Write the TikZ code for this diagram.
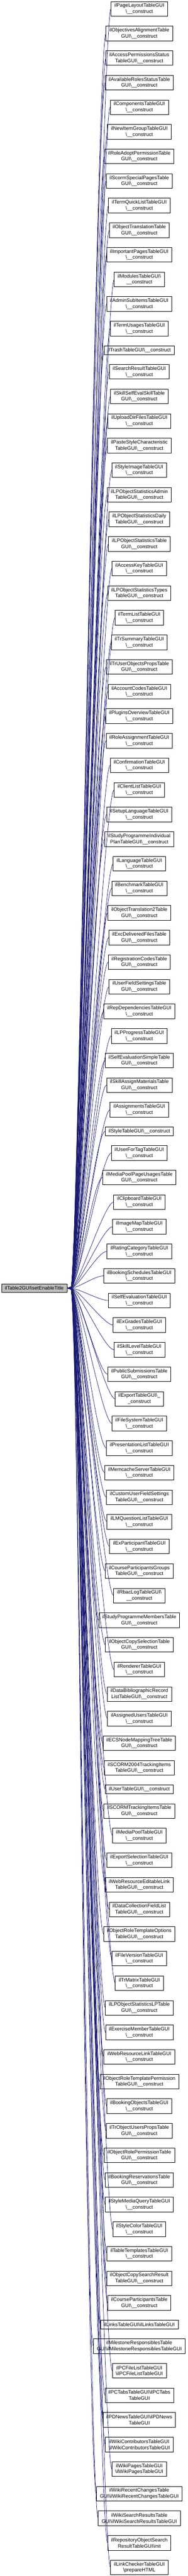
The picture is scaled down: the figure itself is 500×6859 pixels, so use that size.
\documentclass[tikz,border=0pt]{standalone}
\usepackage{fontspec}
\setmainfont{Liberation Sans}
\usetikzlibrary{positioning,calc,arrows.meta}
\definecolor{midblue}{RGB}{25,25,112}
\newcommand{\bs}{\textbackslash}
\newcommand{\cons}{\_\_construct}
\tikzset{
  fn/.style={draw=black, fill=white, line width=0.75pt, align=center,
    font=\fontsize{10pt}{12pt}\selectfont, inner xsep=6.75pt, inner ysep=0pt,
    outer sep=0pt, minimum height=29.25pt},
  fnone/.style={fn, minimum height=17.25pt},
  focusfn/.style={fnone, fill=black!25},
  edge/.style={draw=midblue, line width=0.75pt, {Triangle[length=7.5pt,width=5pt]}-}
}
\def\gap{19.87pt}
\begin{document}
\begin{tikzpicture}[x=0.75pt,y=0.75pt]
\useasboundingbox (0,0) rectangle (500,-6859);
% callers, top to bottom
\foreach \lbl/\sty [count=\i, remember=\i as \j (initially 0)] in {
  ilPageLayoutTableGUI\\\bs\cons/fn,
  ilObjectivesAlignmentTable\\GUI\bs\cons/fn,
  ilAccessPermissionsStatus\\TableGUI\bs\cons/fn,
  ilAvailableRolesStatusTable\\GUI\bs\cons/fn,
  ilComponentsTableGUI\\\bs\cons/fn,
  ilNewItemGroupTableGUI\\\bs\cons/fn,
  ilRoleAdoptPermissionTable\\GUI\bs\cons/fn,
  ilScormSpecialPagesTable\\GUI\bs\cons/fn,
  ilTermQuickListTableGUI\\\bs\cons/fn,
  ilObjectTranslationTable\\GUI\bs\cons/fn,
  ilImportantPagesTableGUI\\\bs\cons/fn,
  ilModulesTableGUI\bs\\\cons/fn,
  ilAdminSubItemsTableGUI\\\bs\cons/fn,
  ilTermUsagesTableGUI\\\bs\cons/fn,
  ilTrashTableGUI\bs\cons/fnone,
  ilSearchResultTableGUI\\\bs\cons/fn,
  ilSkillSelfEvalSkillTable\\GUI\bs\cons/fn,
  ilUploadDirFilesTableGUI\\\bs\cons/fn,
  ilPasteStyleCharacteristic\\TableGUI\bs\cons/fn,
  ilStyleImageTableGUI\\\bs\cons/fn,
  ilLPObjectStatisticsAdmin\\TableGUI\bs\cons/fn,
  ilLPObjectStatisticsDaily\\TableGUI\bs\cons/fn,
  ilLPObjectStatisticsTable\\GUI\bs\cons/fn,
  ilAccessKeyTableGUI\\\bs\cons/fn,
  ilLPObjectStatisticsTypes\\TableGUI\bs\cons/fn,
  ilTermListTableGUI\\\bs\cons/fn,
  ilTrSummaryTableGUI\\\bs\cons/fn,
  ilTrUserObjectsPropsTable\\GUI\bs\cons/fn,
  ilAccountCodesTableGUI\\\bs\cons/fn,
  ilPluginsOverviewTableGUI\\\bs\cons/fn,
  ilRoleAssignmentTableGUI\\\bs\cons/fn,
  ilConfirmationTableGUI\\\bs\cons/fn,
  ilClientListTableGUI\\\bs\cons/fn,
  ilSetupLanguageTableGUI\\\bs\cons/fn,
  ilStudyProgrammeIndividual\\PlanTableGUI\bs\cons/fn,
  ilLanguageTableGUI\\\bs\cons/fn,
  ilBenchmarkTableGUI\\\bs\cons/fn,
  ilObjectTranslation2Table\\GUI\bs\cons/fn,
  ilExcDeliveredFilesTable\\GUI\bs\cons/fn,
  ilRegistrationCodesTable\\GUI\bs\cons/fn,
  ilUserFieldSettingsTable\\GUI\bs\cons/fn,
  ilRepDependenciesTableGUI\\\bs\cons/fn,
  ilLPProgressTableGUI\\\bs\cons/fn,
  ilSelfEvaluationSimpleTable\\GUI\bs\cons/fn,
  ilSkillAssignMaterialsTable\\GUI\bs\cons/fn,
  ilAssignmentsTableGUI\\\bs\cons/fn,
  ilStyleTableGUI\bs\cons/fnone,
  ilUserForTagTableGUI\\\bs\cons/fn,
  ilMediaPoolPageUsagesTable\\GUI\bs\cons/fn,
  ilClipboardTableGUI\\\bs\cons/fn,
  ilImageMapTableGUI\\\bs\cons/fn,
  ilRatingCategoryTableGUI\\\bs\cons/fn,
  ilBookingSchedulesTableGUI\\\bs\cons/fn,
  ilSelfEvaluationTableGUI\\\bs\cons/fn,
  ilExGradesTableGUI\\\bs\cons/fn,
  ilSkillLevelTableGUI\\\bs\cons/fn,
  ilPublicSubmissionsTable\\GUI\bs\cons/fn,
  ilExportTableGUI\bs\_\\\_construct/fn,
  ilFileSystemTableGUI\\\bs\cons/fn,
  ilPresentationListTableGUI\\\bs\cons/fn,
  ilMemcacheServerTableGUI\\\bs\cons/fn,
  ilCustomUserFieldSettings\\TableGUI\bs\cons/fn,
  ilLMQuestionListTableGUI\\\bs\cons/fn,
  ilExParticipantTableGUI\\\bs\cons/fn,
  ilCourseParticipantsGroups\\TableGUI\bs\cons/fn,
  ilRbacLogTableGUI\bs\\\cons/fn,
  ilStudyProgrammeMembersTable\\GUI\bs\cons/fn,
  ilObjectCopySelectionTable\\GUI\bs\cons/fn,
  ilRendererTableGUI\\\bs\cons/fn,
  ilDataBibliographicRecord\\ListTableGUI\bs\cons/fn,
  ilAssignedUsersTableGUI\\\bs\cons/fn,
  ilECSNodeMappingTreeTable\\GUI\bs\cons/fn,
  ilSCORM2004TrackingItems\\TableGUI\bs\cons/fn,
  ilUserTableGUI\bs\cons/fnone,
  ilSCORMTrackingItemsTable\\GUI\bs\cons/fn,
  ilMediaPoolTableGUI\\\bs\cons/fn,
  ilExportSelectionTableGUI\\\bs\cons/fn,
  ilWebResourceEditableLink\\TableGUI\bs\cons/fn,
  ilDataCollectionFieldList\\TableGUI\bs\cons/fn,
  ilObjectRoleTemplateOptions\\TableGUI\bs\cons/fn,
  ilFileVersionTableGUI\\\bs\cons/fn,
  ilTrMatrixTableGUI\\\bs\cons/fn,
  ilLPObjectStatisticsLPTable\\GUI\bs\cons/fn,
  ilExerciseMemberTableGUI\\\bs\cons/fn,
  ilWebResourceLinkTableGUI\\\bs\cons/fn,
  ilObjectRoleTemplatePermission\\TableGUI\bs\cons/fn,
  ilBookingObjectsTableGUI\\\bs\cons/fn,
  ilTrObjectUsersPropsTable\\GUI\bs\cons/fn,
  ilObjectRolePermissionTable\\GUI\bs\cons/fn,
  ilBookingReservationsTable\\GUI\bs\cons/fn,
  ilStyleMediaQueryTableGUI\\\bs\cons/fn,
  ilStyleColorTableGUI\\\bs\cons/fn,
  ilTableTemplatesTableGUI\\\bs\cons/fn,
  ilObjectCopySearchResult\\TableGUI\bs\cons/fn,
  ilCourseParticipantsTable\\GUI\bs\cons/fn,
  ilLinksTableGUI\bs ilLinksTableGUI/fnone,
  ilMilestoneResponsiblesTable\\GUI\bs ilMilestoneResponsiblesTableGUI/fn,
  ilPCFileListTableGUI\\\bs ilPCFileListTableGUI/fn,
  ilPCTabsTableGUI\bs ilPCTabs\\TableGUI/fn,
  ilPDNewsTableGUI\bs ilPDNews\\TableGUI/fn,
  ilWikiContributorsTableGUI\\\bs ilWikiContributorsTableGUI/fn,
  ilWikiPagesTableGUI\\\bs ilWikiPagesTableGUI/fn,
  ilWikiRecentChangesTable\\GUI\bs ilWikiRecentChangesTableGUI/fn,
  ilWikiSearchResultsTable\\GUI\bs ilWikiSearchResultsTableGUI/fn,
  ilRepositoryObjectSearch\\ResultTableGUI\bs init/fn,
  ilLinkCheckerTableGUI\\\bs prepareHTML/fn}
{
  \ifnum\i=1
    \node[\sty, anchor=north] (r1) at (371,-4) {\lbl};
  \else
    \node[\sty, below=\gap of r\j] (r\i) {\lbl};
  \fi
}
% the called function
\path let \p1=($(r1)!0.5!(r106)$) in
  node[focusfn, anchor=west] (focus) at (3pt,\y1) {ilTable2GUI\bs setEnableTitle};
\foreach \i in {1,...,106}
  \draw[edge] (focus.east) .. controls +(30,0) and +(-25,0) .. (r\i.west);
\end{tikzpicture}
\end{document}
